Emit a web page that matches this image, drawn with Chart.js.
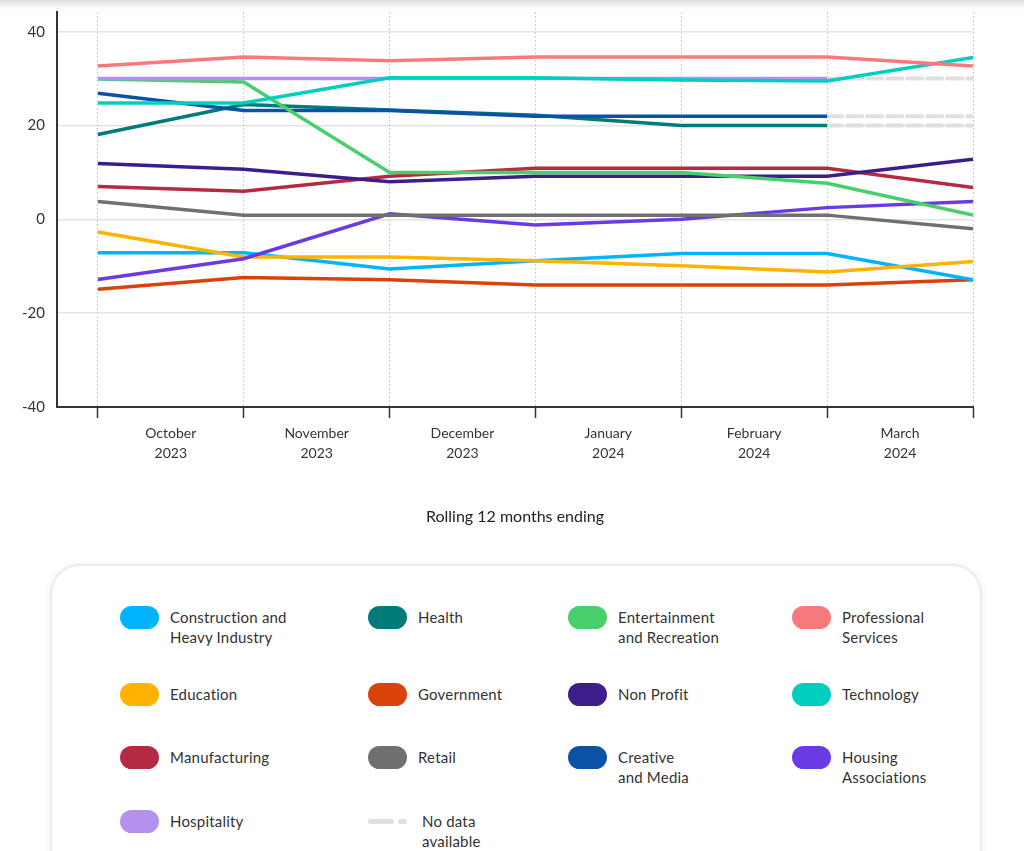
<!DOCTYPE html>
<html>
<head>
<meta charset="utf-8">
<script src="https://cdn.jsdelivr.net/npm/chart.js@4/dist/chart.umd.min.js"></script>
<style>
  html, body { margin: 0; padding: 0; background: #fff; width: 1024px; height: 851px; overflow: hidden; font-family: Lato, "Noto Sans", sans-serif; }
  #topshadow { position: absolute; left: -20px; right: -20px; top: -20px; height: 20px; box-shadow: 0 3px 8px rgba(0,0,0,0.18); background: #fff; }
  #wrap { position: absolute; left: 0; top: 0; width: 1024px; height: 540px; }
  #legend { position: absolute; left: 50px; top: 564px; width: 928px; height: 320px; border: 2px solid #ececec; border-radius: 30px; box-shadow: 0 1px 6px rgba(0,0,0,0.08); background: #fff; }
  .item { position: absolute; display: flex; align-items: flex-start; }
  .sw { width: 39px; height: 23px; border-radius: 12px; margin-top: -1px; flex: none; }
  .sw.dash { height: 5px; border-radius: 0; margin-top: 8px; width: 44px; background: transparent; position: relative; }
  .txt { font-size: 15px; line-height: 20px; color: #333; white-space: pre; letter-spacing: 0.2px; }
</style>
</head>
<body>
<div id="topshadow"></div>
<div id="wrap"><canvas id="c" width="1024" height="540"></canvas></div>
<div id="legend"></div>
<script>
// ---- data ----
const pointIndex = [0, 1, 2, 3, 4, 5, 6];
const monthNames = ['October', 'November', 'December', 'January', 'February', 'March'];
const monthYears = ['2023', '2023', '2023', '2024', '2024', '2024'];
const yTicks = [-40, -20, 0, 20, 40];
const axisTitle = 'Rolling 12 months ending';

const seriesNames = ['Construction and Heavy Industry', 'Health', 'Entertainment and Recreation', 'Professional Services',
  'Education', 'Government', 'Non Profit', 'Technology', 'Manufacturing', 'Retail', 'Creative and Media',
  'Housing Associations', 'Hospitality'];
const legendLabels = ['Construction and\nHeavy Industry', 'Health', 'Entertainment\nand Recreation', 'Professional\nServices',
  'Education', 'Government', 'Non Profit', 'Technology', 'Manufacturing', 'Retail', 'Creative\nand Media',
  'Housing\nAssociations', 'Hospitality'];
const seriesColors = ['#00b4ff', '#017a7b', '#48cf6b', '#f87a7b', '#ffb300', '#d9420b', '#3b1e8a', '#00cfc0',
  '#b52a43', '#707070', '#0b52a7', '#6a3ae3', '#b690ee'];

const construction = [-7.1, -7.1, -10.6, -8.8, -7.3, -7.3, -12.9];
const health = [18.1, 24.5, 23.3, 22.2, 20.0, 20.0, null];
const entertainment = [29.9, 29.3, 10.0, 10.0, 10.0, 7.7, 0.9];
const professional = [32.7, 34.6, 33.8, 34.6, 34.6, 34.6, 32.7];
const education = [-2.7, -8.0, -8.0, -8.8, -9.9, -11.2, -9.0];
const government = [-14.9, -12.4, -12.9, -14.0, -14.0, -14.0, -12.9];
const nonProfit = [11.9, 10.7, 8.0, 9.2, 9.2, 9.2, 12.8];
const technology = [24.8, 24.8, 30.2, 30.2, 29.7, 29.5, 34.5];
const manufacturing = [7.0, 6.0, 9.2, 10.9, 10.9, 10.9, 6.8];
const retail = [3.8, 0.9, 0.9, 0.9, 0.9, 0.9, -2.0];
const creative = [26.9, 23.2, 23.2, 22.0, 22.0, 22.0, null];
const housing = [-12.8, -8.4, 1.2, -1.2, 0.0, 2.5, 3.8];
const hospitality = [30.0, 30.0, 30.0, 30.0, 30.0, 30.0, null];

const noDataLabel = 'No data\navailable';
const noDataColor = '#e0e0e0';

// ---- build ----
const seriesData = [construction, health, entertainment, professional, education, government, nonProfit,
  technology, manufacturing, retail, creative, housing, hospitality];

const drawOrder = [3, 7, 12, 2, 10, 1, 6, 8, 9, 11, 4, 0, 5];
const toPoints = arr => arr.map((v, j) => ({ x: pointIndex[j], y: v }));

const datasets = [];
drawOrder.forEach((i, k) => {
  datasets.push({
    label: seriesNames[i], data: toPoints(seriesData[i]), borderColor: seriesColors[i], backgroundColor: seriesColors[i],
    borderWidth: 3.5, pointRadius: 0, pointHoverRadius: 0, tension: 0, spanGaps: false, order: k, xAxisID: 'x'
  });
});
// "no data" continuation: carry the last known value across the missing points
seriesData.forEach((arr, i) => {
  if (arr[arr.length - 1] !== null) return;
  let last = -1;
  arr.forEach((v, j) => { if (v !== null) last = j; });
  const d = arr.map((v, j) => (j >= last ? arr[last] : null));
  datasets.push({
    label: 'nodata-' + seriesNames[i], data: toPoints(d), borderColor: noDataColor, borderWidth: 4,
    borderDash: [15, 5], borderCapStyle: 'round', pointRadius: 0, tension: 0, order: 100, xAxisID: 'x'
  });
});

const FONT = 'Lato, "Noto Sans", sans-serif';
const X_MIN = -0.28, X_MAX = 6;

new Chart(document.getElementById('c'), {
  type: 'line',
  data: { datasets },
  options: {
    responsive: false,
    animation: false,
    events: [],
    layout: { padding: { top: 12, right: 51, left: 0, bottom: 0 } },
    plugins: { legend: { display: false }, tooltip: { enabled: false } },
    scales: {
      y: {
        min: -40, max: 44.2,
        afterFit: s => { s.width = 57; },
        afterBuildTicks: s => { s.ticks = yTicks.map(v => ({ value: v })); },
        ticks: { padding: 0, color: '#333', font: { family: FONT, size: 15 } },
        grid: { color: '#e4e4e4', lineWidth: 1.5, drawTicks: true, tickLength: 12, tickColor: 'rgba(0,0,0,0)' },
        border: { color: '#333', width: 2 }
      },
      x: {
        type: 'linear', position: 'bottom', weight: 0, min: X_MIN, max: X_MAX,
        afterFit: s => { s.height = 11; },
        afterBuildTicks: s => { s.ticks = pointIndex.map(v => ({ value: v })); },
        ticks: { display: false },
        grid: { color: '#cfcfcf', lineWidth: 1, tickLength: 11, tickColor: '#333', tickWidth: 1.5, tickBorderDash: [] },
        border: { color: '#333', width: 2, dash: [2, 2] }
      },
      x2: {
        type: 'linear', position: 'bottom', weight: 1, min: X_MIN, max: X_MAX,
        afterFit: s => { s.height = 540 - 407 - 11; },
        afterBuildTicks: s => { s.ticks = monthNames.map((m, i) => ({ value: (pointIndex[i] + pointIndex[i + 1]) / 2 })); },
        ticks: {
          padding: 5, color: '#333', font: { family: FONT, size: 14, lineHeight: 1.45 }, maxRotation: 0, autoSkip: false,
          callback: (v, i) => [monthNames[i], monthYears[i]]
        },
        grid: { display: false, drawTicks: false },
        border: { display: false },
        title: { display: true, text: axisTitle, color: '#222', font: { family: FONT, size: 16 }, padding: { top: 0, bottom: 14 } }
      }
    }
  }
});

// ---- HTML legend ----
const legend = document.getElementById('legend');
const colLeft = [68, 316, 516, 740];
const rowTop = [41, 118, 181, 245];
const legendItems = legendLabels.map((t, i) => ({ text: t, color: seriesColors[i], dash: false }));
legendItems.push({ text: noDataLabel, color: noDataColor, dash: true });
legendItems.forEach((it, k) => {
  const el = document.createElement('div');
  el.className = 'item';
  el.style.left = colLeft[k % 4] + 'px';
  el.style.top = rowTop[Math.floor(k / 4)] + 'px';
  const sw = document.createElement('div');
  if (it.dash) {
    sw.className = 'sw dash';
    sw.innerHTML = '<div style="position:absolute;left:0;top:0;width:26px;height:5px;border-radius:3px;background:' + it.color + '"></div>' +
      '<div style="position:absolute;left:30px;top:0;width:9px;height:5px;border-radius:3px;background:' + it.color + '"></div>';
  } else {
    sw.className = 'sw';
    sw.style.background = it.color;
  }
  const tx = document.createElement('div');
  tx.className = 'txt';
  tx.style.marginLeft = it.dash ? '10px' : '11px';
  tx.textContent = it.text;
  el.appendChild(sw); el.appendChild(tx);
  legend.appendChild(el);
});
</script>
</body>
</html>
